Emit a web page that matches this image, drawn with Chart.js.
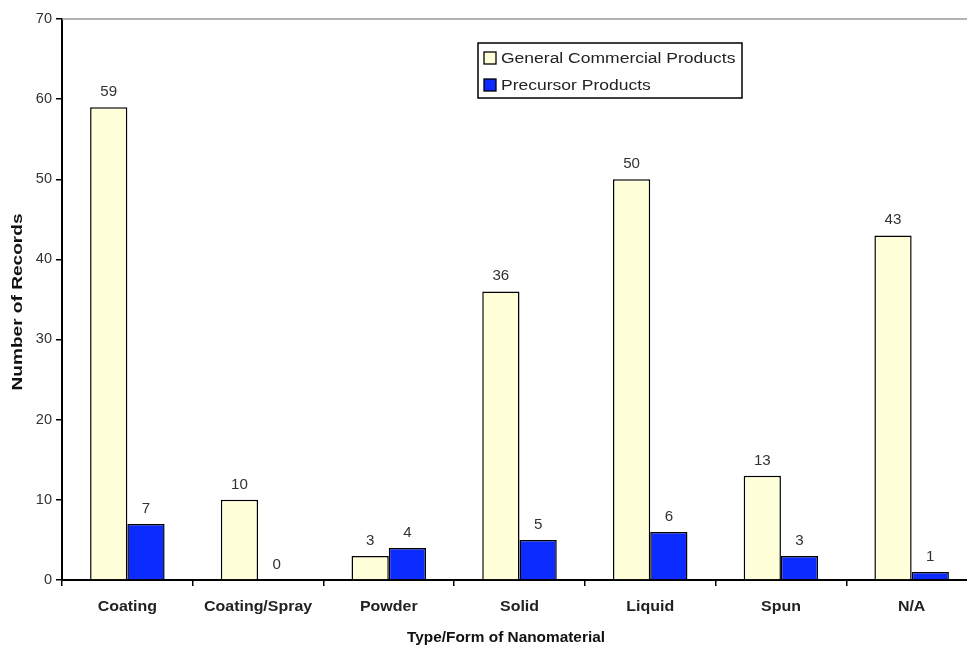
<!DOCTYPE html>
<html>
<head>
<meta charset="utf-8">
<script src="https://cdn.jsdelivr.net/npm/chart.js@4.4.1/dist/chart.umd.min.js"></script>
<style>
  html, body { margin: 0; padding: 0; background: #fff; overflow: hidden; }
  #wrap { width: 977px; height: 649px; }
</style>
</head>
<body>
<div id="wrap"><canvas id="c" width="977" height="649"></canvas></div>
<script>
const categories = ['Coating', 'Coating/Spray', 'Powder', 'Solid', 'Liquid', 'Spun', 'N/A'];
const generalCommercial = [59, 10, 3, 36, 50, 13, 43];
const precursor = [7, 0, 4, 5, 6, 3, 1];
const seriesNames = ['General Commercial Products', 'Precursor Products'];
const yTicks = [0, 10, 20, 30, 40, 50, 60, 70];

const FONT = '"Liberation Sans", Arial, sans-serif';

// Draw text widened horizontally around an anchor point
function wideText(ctx, text, x, y, align, sx) {
  ctx.save();
  ctx.translate(x, y);
  ctx.scale(sx, 1);
  ctx.textAlign = align;
  ctx.fillText(text, 0, 0);
  ctx.restore();
}

// Tick labels, value labels, legend, axis titles and the grey top rule
const decorations = {
  id: 'decorations',
  afterDatasetsDraw(chart) {
    const ctx = chart.ctx;
    const area = chart.chartArea;
    const xs = chart.scales.x, ys = chart.scales.y;
    ctx.save();

    // grey rule along the top of the plot
    ctx.strokeStyle = '#9a9a9a';
    ctx.lineWidth = 1.5;
    ctx.beginPath();
    ctx.moveTo(area.left, area.top);
    ctx.lineTo(area.right, area.top);
    ctx.stroke();

    // y tick labels
    ctx.font = '14px ' + FONT;
    ctx.fillStyle = '#333';
    ctx.textBaseline = 'middle';
    ys.ticks.forEach((t, i) => {
      wideText(ctx, String(t.value), area.left - 10, ys.getPixelForTick(i), 'right', 1.04);
    });

    // category labels
    ctx.font = 'bold 14px ' + FONT;
    ctx.fillStyle = '#222';
    categories.forEach((c, i) => {
      wideText(ctx, c, xs.getPixelForTick(i), area.bottom + 27, 'center', 1.14);
    });

    // value labels
    ctx.font = '14px ' + FONT;
    ctx.fillStyle = '#333';
    ctx.textBaseline = 'bottom';
    chart.data.datasets.forEach((ds, di) => {
      chart.getDatasetMeta(di).data.forEach((bar, i) => {
        wideText(ctx, String(ds.data[i]), bar.x, bar.y - 8, 'center', 1.08);
      });
    });

    // legend
    const lx = 478, ly = 43, lw = 264, lh = 55;
    ctx.strokeStyle = '#000';
    ctx.lineWidth = 1.5;
    ctx.fillStyle = '#fff';
    ctx.fillRect(lx, ly, lw, lh);
    ctx.strokeRect(lx, ly, lw, lh);
    ctx.textBaseline = 'middle';
    ctx.font = '14px ' + FONT;
    chart.data.datasets.forEach((ds, di) => {
      const cy = ly + 15 + di * 27;
      ctx.fillStyle = ds.backgroundColor;
      ctx.fillRect(lx + 6, cy - 6, 12, 12);
      ctx.strokeStyle = '#000';
      ctx.lineWidth = 1.3;
      ctx.strokeRect(lx + 6, cy - 6, 12, 12);
      ctx.fillStyle = '#222';
      wideText(ctx, ds.label, lx + 23, cy + 1, 'left', 1.25);
    });

    // axis titles
    ctx.fillStyle = '#111';
    ctx.font = 'bold 14px ' + FONT;
    ctx.textBaseline = 'middle';
    const xt = 'Type/Form of Nanomaterial';
    wideText(ctx, xt, 506, 638, 'center', 198 / ctx.measureText(xt).width);
    const yt = 'Number of Records';
    const ySx = 177 / ctx.measureText(yt).width;
    ctx.save();
    ctx.translate(18, 302);
    ctx.rotate(-Math.PI / 2);
    ctx.scale(ySx, 1.1);
    ctx.textAlign = 'center';
    ctx.fillText(yt, 0, 0);
    ctx.restore();

    ctx.restore();
  }
};

new Chart(document.getElementById('c'), {
  type: 'bar',
  data: {
    labels: categories,
    datasets: [
      {
        label: seriesNames[0],
        data: generalCommercial,
        backgroundColor: '#FFFFDA',
        borderColor: '#000',
        borderWidth: 1.5
      },
      {
        label: seriesNames[1],
        data: precursor,
        backgroundColor: '#0B2BFF',
        borderColor: '#000',
        borderWidth: 1.5
      }
    ]
  },
  options: {
    responsive: false,
    animation: false,
    devicePixelRatio: 1,
    layout: { padding: { top: 19, right: 0, bottom: 0, left: 0 } },
    datasets: { bar: { categoryPercentage: 0.57, barPercentage: 1.0 } },
    plugins: {
      legend: { display: false },
      tooltip: { enabled: false }
    },
    scales: {
      x: {
        offset: true,
        grid: {
          offset: true,
          drawOnChartArea: false,
          drawTicks: true,
          tickLength: 6,
          color: '#000',
          lineWidth: 1.5
        },
        border: { display: true, color: '#000', width: 2 },
        ticks: {
          color: 'rgba(0,0,0,0)',
          font: { family: FONT, size: 13, weight: 'bold' },
          padding: 14,
          maxRotation: 0,
          autoSkip: false
        },
        afterFit(scale) { scale.height = 69; }
      },
      y: {
        min: 0,
        max: 70,
        afterBuildTicks(scale) { scale.ticks = yTicks.map(v => ({ value: v })); },
        grid: {
          drawOnChartArea: false,
          drawTicks: true,
          tickLength: 6,
          color: '#000',
          lineWidth: 1.5
        },
        border: { display: true, color: '#000', width: 2 },
        ticks: {
          color: 'rgba(0,0,0,0)',
          font: { family: FONT, size: 12 },
          padding: 5
        },
        afterFit(scale) { scale.width = 62; }
      }
    }
  },
  plugins: [decorations]
});
</script>
</body>
</html>
